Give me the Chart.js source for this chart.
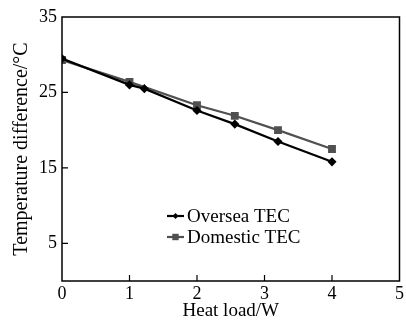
<!DOCTYPE html>
<html><head><meta charset="utf-8">
<script src="https://cdn.jsdelivr.net/npm/chart.js@4/dist/chart.umd.min.js"></script>
<style>html,body{margin:0;padding:0;background:#fff}#wrap{width:406px;height:320px}</style>
</head><body><div id="wrap"><canvas id="c" width="406" height="320"></canvas></div>
<script>
const overseaX = [0, 1, 1.22, 2, 2.56, 3.2, 4];
const overseaY = [29.5, 26.0, 25.5, 22.6, 20.8, 18.5, 15.8];
const domesticX = [0, 1, 2, 2.56, 3.2, 4];
const domesticY = [29.3, 26.4, 23.3, 21.9, 20.0, 17.5];
const seriesNames = ["Oversea TEC", "Domestic TEC"];
const xTicks = [0, 1, 2, 3, 4, 5];
const yTicks = [5, 15, 25, 35];

const FONT = "'Liberation Serif','Times New Roman',serif";
const toPts = (xs, ys) => xs.map((x, i) => ({x: x, y: ys[i]}));

const framePlugin = {
  id: 'frame',
  afterDraw(chart) {
    const ctx = chart.ctx, a = chart.chartArea;
    const xs = chart.scales.x, ys = chart.scales.y;
    ctx.save();
    ctx.strokeStyle = '#000';
    ctx.lineWidth = 1.5;
    ctx.strokeRect(a.left, a.top, a.right - a.left, a.bottom - a.top);
    ctx.lineWidth = 1.2;
    ctx.beginPath();
    xTicks.forEach(t => {
      if (t === 0 || t === 5) return;
      const px = xs.getPixelForValue(t);
      ctx.moveTo(px, a.bottom); ctx.lineTo(px, a.bottom - 6);
    });
    yTicks.forEach(t => {
      if (t === 35) return;
      const py = ys.getPixelForValue(t);
      ctx.moveTo(a.left, py); ctx.lineTo(a.left + 6, py);
    });
    ctx.stroke();
    // legend
    const lx = a.left + 105, ly0 = a.top + 199, gap = 21;
    chart.data.datasets.forEach((ds, i) => {
      const y = ly0 + i * gap;
      ctx.strokeStyle = ds.borderColor;
      ctx.lineWidth = ds.borderWidth;
      ctx.beginPath(); ctx.moveTo(lx, y); ctx.lineTo(lx + 17, y); ctx.stroke();
      ctx.fillStyle = ds.pointBackgroundColor;
      const cx = lx + 8.5, r = ds.pointRadius;
      ctx.beginPath();
      if (ds.pointStyle === 'rect') { ctx.rect(cx - r * 0.8, y - r * 0.8, r * 1.6, r * 1.6); }
      else { ctx.moveTo(cx, y - r); ctx.lineTo(cx + r, y); ctx.lineTo(cx, y + r); ctx.lineTo(cx - r, y); ctx.closePath(); }
      ctx.fill();
      ctx.fillStyle = '#000';
      ctx.font = '19px ' + FONT;
      ctx.textBaseline = 'middle';
      ctx.textAlign = 'left';
      ctx.fillText(ds.label, lx + 20, y + 1);
    });
    ctx.restore();
  }
};

new Chart(document.getElementById('c'), {
  type: 'line',
  data: {
    datasets: [
      {label: seriesNames[0], data: toPts(overseaX, overseaY), borderColor: '#000', pointBackgroundColor: '#000', pointBorderColor: '#000', borderWidth: 2.2, pointStyle: 'rectRot', pointRadius: 3, tension: 0},
      {label: seriesNames[1], data: toPts(domesticX, domesticY), borderColor: '#505050', pointBackgroundColor: '#505050', pointBorderColor: '#505050', borderWidth: 2.2, pointStyle: 'rect', pointRadius: 4, tension: 0}
    ]
  },
  options: {
    responsive: false,
    animation: false,
    layout: {padding: {left: 0, right: 3, top: 17, bottom: 0}},
    plugins: {legend: {display: false}, tooltip: {enabled: false}},
    scales: {
      x: {
        type: 'linear', min: 0, max: 5,
        afterBuildTicks(s) { s.ticks = xTicks.map(v => ({value: v})); },
        afterFit(s) { s.height = 39; },
        grid: {display: false, drawTicks: false},
        border: {display: false},
        ticks: {color: '#000', font: {family: FONT, size: 18}, padding: 2, maxRotation: 0},
        title: {display: true, text: 'Heat load/W', color: '#000', font: {family: FONT, size: 19}, padding: {top: 0, bottom: -2}}
      },
      y: {
        type: 'linear', min: 0, max: 35,
        afterBuildTicks(s) { s.ticks = yTicks.map(v => ({value: v})); },
        afterFit(s) { s.width = 62; },
        grid: {display: false, drawTicks: false},
        border: {display: false},
        ticks: {color: '#000', font: {family: FONT, size: 18}, padding: 5},
        title: {display: true, text: 'Temperature difference/°C', color: '#000', font: {family: FONT, size: 20}, padding: {top: 10, bottom: 0}}
      }
    }
  },
  plugins: [framePlugin]
});
</script>
</body></html>
